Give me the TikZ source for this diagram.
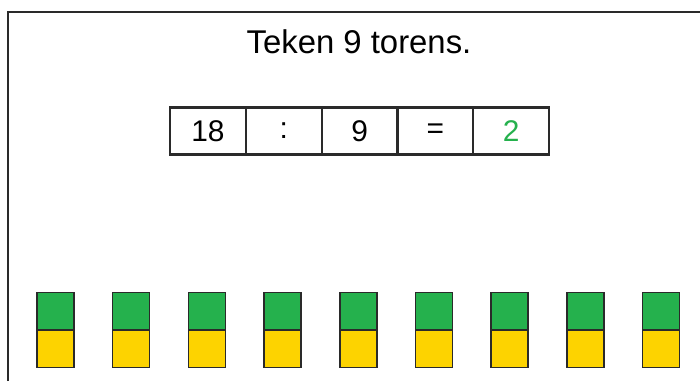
\documentclass[tikz,border=0pt]{standalone}
\usepackage{fontspec}
\setmainfont{Liberation Sans}
\definecolor{tgreen}{HTML}{25B14D}
\definecolor{tyellow}{HTML}{FDD300}
\definecolor{frame}{HTML}{2A2A2A}
\begin{document}
\begin{tikzpicture}[x=1bp,y=-1bp,
  cell/.style={draw=frame,line width=2.2bp,minimum width=75.8bp,minimum height=47bp,inner sep=0pt,outer sep=0pt,font=\fontsize{30}{32}\selectfont},
  block/.style={draw=frame,line width=1.5bp,minimum width=37bp,minimum height=37.5bp,inner sep=0pt,outer sep=0pt}]
\useasboundingbox (0,0) rectangle (700,381);
\draw[frame,line width=1.6bp] (8,381) -- (8,12) -- (700,12);
\node (title) at (359,42) {\fontsize{33}{36}\selectfont Teken 9 torens.};
\foreach \t [count=\i from 0] in {18,:,9,=,{\textcolor{tgreen}{2}}} {
  \node[cell] (c\i) at (208+75.8*\i,131) {\t};
}
\foreach \k in {0,...,8} {
  \node[block,fill=tgreen] (g\k) at (55.5+75.7*\k,311.3) {};
  \node[block,fill=tyellow] (y\k) at (55.5+75.7*\k,348.8) {};
}
\end{tikzpicture}
\end{document}
